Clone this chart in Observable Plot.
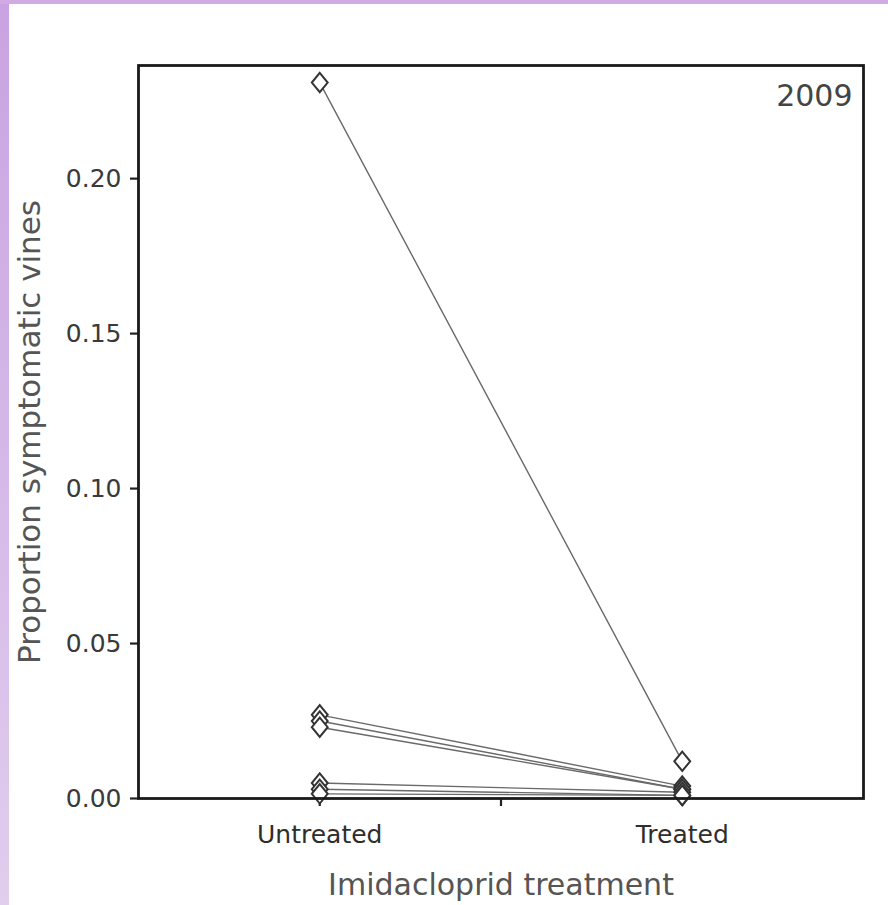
<!DOCTYPE html>
<html>
<head>
<meta charset="utf-8">
<script src="https://cdn.jsdelivr.net/npm/d3@7"></script>
<script src="https://cdn.jsdelivr.net/npm/@observablehq/plot@0.6"></script>
<style>
  html, body { margin: 0; padding: 0; background: #ffffff; }
  #wrap { position: relative; width: 888px; height: 905px; overflow: hidden; }
  #bandL { position: absolute; left: 0; top: 0; width: 9px; height: 905px;
           background: linear-gradient(#c9a3e1, #e1cdee); }
  #bandT { position: absolute; left: 0; top: 0; width: 888px; height: 4px; background: #d1aae3; }
  svg { font-family: "DejaVu Sans", sans-serif; }
</style>
</head>
<body>
<div id="wrap"><div id="chart"></div><div id="bandL"></div><div id="bandT"></div></div>
<script>
const categories = ["Untreated", "Treated"];
const sites = ["A", "B", "C", "D", "E", "F", "G"];
const untreated = [0.231, 0.027, 0.025, 0.023, 0.005, 0.003, 0.0015];
const treated   = [0.012, 0.004, 0.003, 0.003, 0.002, 0.001, 0.001];
const yTicks = [0, 0.05, 0.10, 0.15, 0.20];
const panelLabel = "2009";
const xTitle = "Imidacloprid treatment";
const yTitle = "Proportion symptomatic vines";

const rows = [];
sites.forEach((s, i) => {
  rows.push({site: s, t: 1, cat: categories[0], v: untreated[i]});
  rows.push({site: s, t: 2, cat: categories[1], v: treated[i]});
});

// slightly wide diamond marker (symbol shape only)
const wideDiamond = {
  draw(context, size) {
    const q = Math.sqrt(size);
    const a = 0.78 * q, b = 0.64 * q;
    context.moveTo(0, -a);
    context.lineTo(b, 0);
    context.lineTo(0, a);
    context.lineTo(-b, 0);
    context.closePath();
  }
};

const chart = Plot.plot({
  width: 888,
  height: 905,
  marginLeft: 138,
  marginRight: 25,
  marginTop: 65,
  marginBottom: 107,
  style: {fontFamily: "DejaVu Sans, sans-serif", background: "transparent"},
  x: {domain: [0.5, 2.5]},
  y: {domain: [0, 0.2365]},
  marks: [
    Plot.axisY({ticks: yTicks, tickFormat: d3.format(".2f"), tickSize: 8, tickPadding: 9,
                fontSize: 25, color: "#3a3a3a", stroke: "#222", strokeWidth: 2.2, label: null}),
    Plot.axisX({ticks: [1, 1.5, 2], tickFormat: d => d === 1 ? categories[0] : d === 2 ? categories[1] : "",
                tickSize: 8, tickPadding: 19, fontSize: 25, color: "#2e2e2e", stroke: "#222", strokeWidth: 2.2, label: null}),
    Plot.line(rows, {x: "t", y: "v", z: "site", stroke: "#6a6a6a", strokeWidth: 1.4}),
    Plot.dot(rows, {x: "t", y: "v", symbol: wideDiamond, r: 7, stroke: "#333", fill: "white", strokeWidth: 2}),
    Plot.frame({stroke: "#1a1a1a", strokeWidth: 2.8}),
    Plot.text([panelLabel], {frameAnchor: "top-right", dx: -11, dy: 31, textAnchor: "end", lineAnchor: "middle",
                             fontSize: 30, fill: "#444"}),
    Plot.text([xTitle], {frameAnchor: "bottom", dy: 87, lineAnchor: "middle", fontSize: 30, fill: "#555"}),
    Plot.text([yTitle], {frameAnchor: "left", dx: -108, rotate: -90, lineAnchor: "middle", textAnchor: "middle",
                         fontSize: 31, fill: "#555"})
  ]
});
document.getElementById("chart").appendChild(chart);
</script>
</body>
</html>
